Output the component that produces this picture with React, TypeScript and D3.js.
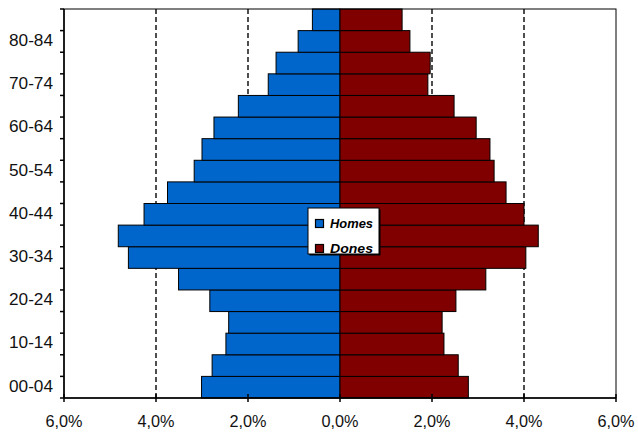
import React from 'react';
import * as d3 from 'd3';

// age groups, bottom to top
const ageGroups = [
  '00-04', '05-09', '10-14', '15-19', '20-24', '25-29', '30-34', '35-39', '40-44',
  '45-49', '50-54', '55-59', '60-64', '65-69', '70-74', '75-79', '80-84', '85+'
];
// percent of total population
const homes = [3.01, 2.78, 2.48, 2.42, 2.83, 3.51, 4.6, 4.82, 4.26, 3.75, 3.17, 3.0, 2.74, 2.21, 1.56, 1.39, 0.91, 0.6];
const dones = [2.79, 2.57, 2.26, 2.22, 2.52, 3.17, 4.04, 4.31, 4.0, 3.61, 3.35, 3.26, 2.96, 2.48, 1.91, 1.96, 1.52, 1.35];
const xTicks = [-6, -4, -2, 0, 2, 4, 6];
const gridTicks = [-4, -2, 2, 4];
const legendItems = [
  { label: 'Homes', color: '#0066CC' },
  { label: 'Dones', color: '#800000' }
];

const W = 638;
const H = 432;
const margin = { top: 9, right: 22, bottom: 34, left: 64 };
const FONT = '"Liberation Sans", Arial, sans-serif';

const fmt = (v: number) => Math.abs(v).toFixed(1).replace('.', ',') + '%';

export default function App() {
  const x = d3.scaleLinear().domain([-6, 6]).range([margin.left, W - margin.right]);
  const y = d3.scaleBand<string>()
    .domain([...ageGroups].reverse())
    .range([margin.top, H - margin.bottom])
    .padding(0);
  const bw = y.bandwidth();
  const x0 = x(0);
  const bottom = H - margin.bottom;

  return (
    <div style={{ position: 'fixed', left: 0, top: 0, background: '#fff' }}>
      <svg width={W} height={H} style={{ display: 'block' }}>
        <rect x={0} y={0} width={W} height={H} fill="#fff" />

        {/* dashed gridlines */}
        {gridTicks.map(t => (
          <line key={t} x1={x(t)} x2={x(t)} y1={margin.top} y2={bottom}
            stroke="#222" strokeWidth={1.6} strokeDasharray="5,3" />
        ))}

        {/* bars */}
        {ageGroups.map((g, i) => (
          <g key={g}>
            <rect x={x(-homes[i])} y={y(g)} width={x0 - x(-homes[i])} height={bw}
              fill="#0066CC" stroke="#000" strokeWidth={1} />
            <rect x={x0} y={y(g)} width={x(dones[i]) - x0} height={bw}
              fill="#800000" stroke="#000" strokeWidth={1} />
          </g>
        ))}

        {/* plot border */}
        <rect x={margin.left} y={margin.top} width={x(6) - margin.left} height={bottom - margin.top}
          fill="none" stroke="#000" strokeWidth={1} />
        <line x1={margin.left} x2={margin.left} y1={margin.top} y2={bottom} stroke="#000" strokeWidth={1.5} />
        <line x1={margin.left} x2={x(6)} y1={bottom} y2={bottom} stroke="#000" strokeWidth={1.5} />

        {/* y ticks at band boundaries */}
        {d3.range(ageGroups.length + 1).map(k => (
          <line key={k} x1={margin.left - 4} x2={margin.left}
            y1={margin.top + k * bw} y2={margin.top + k * bw} stroke="#000" strokeWidth={1.5} />
        ))}
        {ageGroups.map((g, i) => i % 2 === 0 ? (
          <text key={g} x={53} y={(y(g) || 0) + bw / 2 + 4.5} textAnchor="end"
            fontFamily={FONT} fontSize={16} fill="#111" textLength={44}
            lengthAdjust="spacingAndGlyphs">{g}</text>
        ) : null)}

        {/* x ticks */}
        {xTicks.map(t => (
          <g key={t}>
            <line x1={x(t)} x2={x(t)} y1={bottom - 4} y2={bottom + 4} stroke="#000" strokeWidth={1.5} />
            <text x={x(t) - 18.5} y={bottom + 29} fontFamily={FONT} fontSize={17}
              fill="#111" textLength={37} lengthAdjust="spacingAndGlyphs">{fmt(t)}</text>
          </g>
        ))}

        {/* legend */}
        <g>
          <rect x={309.5} y={209.5} width={71} height={46} fill="#000" />
          <rect x={308} y={208} width={71} height={46} fill="#fff" stroke="#000" strokeWidth={1} />
          {legendItems.map((d, i) => (
            <g key={d.label}>
              <rect x={315.5} y={219.5 + i * 25} width={8} height={8} fill={d.color} stroke="#000" strokeWidth={1.2} />
              <text x={330} y={227.5 + i * 25} fontFamily={FONT} fontSize={12}
                fontWeight="bold" fontStyle="italic" fill="#000" textLength={43}
                lengthAdjust="spacingAndGlyphs">{d.label}</text>
            </g>
          ))}
        </g>
      </svg>
    </div>
  );
}
